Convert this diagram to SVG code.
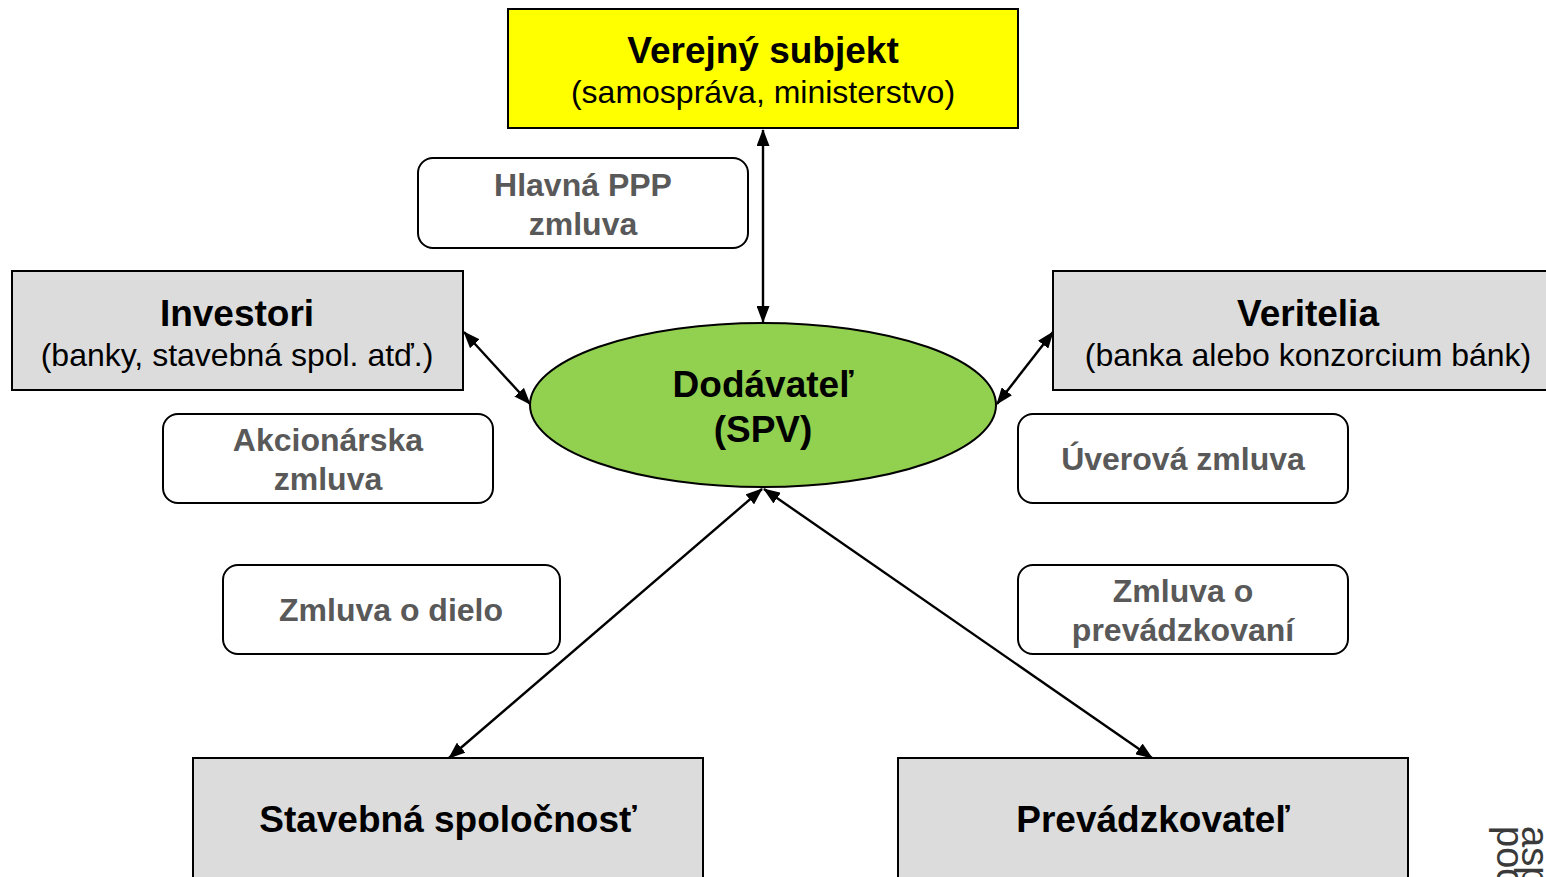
<svg xmlns="http://www.w3.org/2000/svg" width="1546" height="877" viewBox="0 0 1546 877">
<style>
.box{stroke:#000;stroke-width:2}
.party{fill:#dcdcdc}
.lbl{fill:#fff;stroke:#000;stroke-width:2}
.t{font-family:"Liberation Sans",Arial,sans-serif;text-anchor:middle;fill:#000}
.b{font-weight:bold;font-size:37px}
.r{font-size:32px}
.g{font-family:"Liberation Sans",Arial,sans-serif;text-anchor:middle;font-weight:bold;font-size:32px;fill:#595959}
.c{stroke:#000;stroke-width:2.4;fill:none;marker-start:url(#ah);marker-end:url(#ah)}
</style>
<defs>
<marker id="ah" viewBox="0 0 17 13" refX="16" refY="6.5" markerWidth="17" markerHeight="13" markerUnits="userSpaceOnUse" orient="auto-start-reverse">
<path d="M0,0 L17,6.5 L0,13 z" fill="#000"/>
</marker>
</defs>
<rect width="1546" height="877" fill="#fff"/>

<g id="connectors">
<line class="c" x1="763" y1="130" x2="763" y2="322"/>
<line class="c" x1="464" y1="332" x2="530" y2="404"/>
<line class="c" x1="1053" y1="332" x2="997" y2="404"/>
<line class="c" x1="762" y1="489" x2="449" y2="758"/>
<line class="c" x1="764" y1="489" x2="1152" y2="758"/>
</g>

<g id="verejny">
<rect class="box" x="508" y="9" width="510" height="119" fill="#ffff00"/>
<text class="t b" x="763" y="63">Verejný subjekt</text>
<text class="t r" x="763" y="103">(samospráva, ministerstvo)</text>
</g>

<g id="hlavna">
<rect class="lbl" x="418" y="158" width="330" height="90" rx="15"/>
<text class="g" x="583" y="196">Hlavná PPP</text>
<text class="g" x="583" y="235">zmluva</text>
</g>

<g id="investori">
<rect class="box party" x="12" y="271" width="451" height="119"/>
<text class="t b" x="237" y="326">Investori</text>
<text class="t r" x="237" y="366">(banky, stavebná spol. atď.)</text>
</g>

<g id="veritelia">
<rect class="box party" x="1053" y="271" width="510" height="119"/>
<text class="t b" x="1308" y="326">Veritelia</text>
<text class="t r" x="1308" y="366">(banka alebo konzorcium bánk)</text>
</g>

<g id="dodavatel">
<ellipse cx="763" cy="405" rx="233" ry="82" fill="#92d050" stroke="#000" stroke-width="2"/>
<text class="t b" x="763" y="397">Dodávateľ</text>
<text class="t b" x="763" y="442">(SPV)</text>
</g>

<g id="akcionarska">
<rect class="lbl" x="163" y="414" width="330" height="89" rx="15"/>
<text class="g" x="328" y="451">Akcionárska</text>
<text class="g" x="328" y="490">zmluva</text>
</g>

<g id="uverova">
<rect class="lbl" x="1018" y="414" width="330" height="89" rx="15"/>
<text class="g" x="1183" y="470">Úverová zmluva</text>
</g>

<g id="dielo">
<rect class="lbl" x="223" y="565" width="337" height="89" rx="15"/>
<text class="g" x="391" y="621">Zmluva o dielo</text>
</g>

<g id="prevadzkovani">
<rect class="lbl" x="1018" y="565" width="330" height="89" rx="15"/>
<text class="g" x="1183" y="602">Zmluva o</text>
<text class="g" x="1183" y="641">prevádzkovaní</text>
</g>

<g id="stavebna">
<rect class="box party" x="193" y="758" width="510" height="140"/>
<text class="t b" x="448" y="832">Stavebná spoločnosť</text>
</g>

<g id="prevadzkovatel">
<rect class="box party" x="898" y="758" width="510" height="140"/>
<text class="t b" x="1153" y="832">Prevádzkovateľ</text>
</g>

<g id="side-text" font-family="Liberation Sans, Arial, sans-serif" font-size="38" fill="#3a3a3a">
<text transform="translate(1497,826) rotate(90)">pod</text>
<text transform="translate(1522,826) rotate(90)">asp</text>
</g>
</svg>
